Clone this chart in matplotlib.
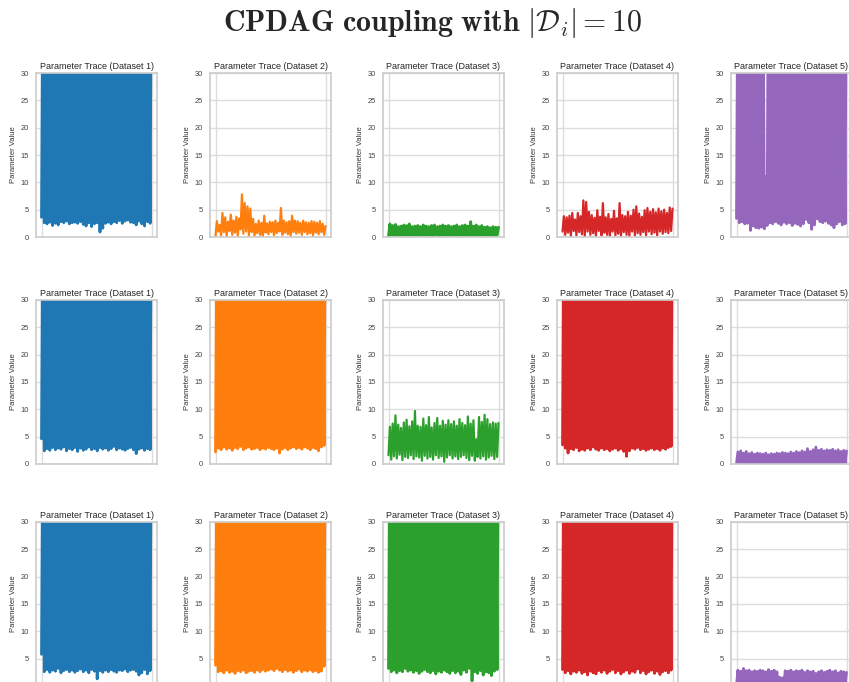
import numpy as np
import matplotlib.pyplot as plt

# iterations shown on the (unlabelled) x axis
n_iter = 1000

# sampled traces, read off the picture as alternating low / high values
# row 1
trace_r1c1 = [3.6, 52, 2.6, 61, 2.4, 45, 2.7, 58, 2.1, 66, 2.5, 49, 2.2, 55, 2.8, 63,
              2.6, 47, 2.9, 59, 2.4, 52, 2.6, 61, 2.7, 45, 2.5, 58, 2.8, 66, 2.3, 49,
              2.0, 55, 2.6, 63, 1.9, 47, 2.4, 59, 2.6, 52, 0.9, 61, 1.6, 45, 2.5, 58,
              2.7, 66, 2.4, 49, 2.8, 55, 2.6, 63, 3.0, 47, 2.5, 59, 2.9, 52, 3.1, 61,
              2.7, 45, 2.6, 58, 2.2, 66, 2.9, 49, 2.4, 55, 2.0, 63, 2.8, 47, 2.5, 59]
trace_r1c2 = [0.2, 2.9, 1.0, 2.2, 0.3, 4.4, 0.9, 3.6, 0.1, 2.8, 1.1, 4.1, 0.4, 3.0, 0.8, 3.7,
              0.2, 3.4, 1.4, 7.8, 0.6, 6.2, 1.0, 5.6, 0.3, 5.2, 0.9, 3.3, 0.2, 2.4, 0.7, 3.0,
              0.4, 2.6, 0.1, 3.9, 0.8, 2.5, 0.5, 2.8, 0.9, 2.7, 0.3, 3.0, 0.7, 2.6, 1.0, 5.3,
              0.4, 3.0, 0.8, 2.7, 0.5, 2.9, 0.2, 3.9, 0.9, 3.0, 0.6, 2.9, 0.8, 2.6, 0.4, 3.0,
              0.9, 2.7, 0.5, 2.6, 0.7, 2.9, 0.3, 2.8, 0.8, 2.6, 0.5, 2.9, 0.9, 2.4, 0.4, 2.0]
trace_r1c3 = [0.2, 2.4, 0.3, 2.1, 0.2, 2.3, 0.3, 1.9, 0.2, 2.0, 0.3, 2.2, 0.2, 2.1, 0.3, 2.4,
              0.2, 1.9, 0.3, 2.0, 0.2, 2.1, 0.3, 1.9, 0.2, 2.2, 0.3, 2.0, 0.2, 1.9, 0.3, 2.1,
              0.2, 2.2, 0.3, 1.9, 0.2, 2.0, 0.3, 2.2, 0.2, 2.0, 0.3, 2.1, 0.2, 1.9, 0.3, 2.0,
              0.2, 2.2, 0.3, 1.9, 0.2, 2.1, 0.3, 2.2, 0.2, 2.0, 0.3, 2.8, 0.2, 2.0, 0.3, 2.2,
              0.2, 1.9, 0.3, 2.1, 0.2, 1.8, 0.3, 1.9, 0.2, 1.7, 0.3, 1.9, 0.2, 1.8, 0.3, 1.8]
trace_r1c4 = [1.0, 3.8, 0.4, 3.6, 0.8, 3.9, 0.2, 4.4, 1.1, 3.2, 0.3, 4.4, 0.9, 3.8, 0.5, 6.7,
              0.2, 6.4, 1.0, 4.6, 0.4, 4.0, 0.7, 3.5, 0.2, 4.9, 1.1, 3.7, 0.3, 6.2, 0.8, 3.6,
              0.4, 4.2, 0.2, 3.3, 1.0, 4.8, 0.3, 3.4, 0.6, 6.2, 0.2, 4.0, 0.9, 3.8, 0.4, 4.6,
              0.2, 3.9, 1.0, 5.0, 0.3, 5.6, 0.7, 4.3, 0.4, 3.7, 0.9, 4.9, 0.3, 5.3, 1.0, 4.6,
              0.5, 5.1, 0.8, 4.5, 0.3, 5.2, 1.0, 4.7, 0.6, 5.0, 0.9, 4.4, 0.7, 5.4, 1.1, 5.2]
trace_r1c5 = [3.4, 52, 2.6, 61, 2.8, 45, 2.4, 58, 2.5, 66, 1.2, 49, 2.0, 55, 1.7, 63,
              1.6, 47, 1.8, 59, 1.5, 11, 2.1, 61, 2.6, 45, 2.4, 58, 2.8, 66, 2.5, 49,
              2.2, 55, 2.7, 63, 2.4, 47, 2.6, 59, 2.1, 52, 2.5, 61, 2.3, 45, 2.0, 58,
              2.4, 66, 3.2, 49, 2.6, 55, 1.4, 63, 2.2, 47, 3.3, 59, 2.8, 52, 2.6, 61,
              2.9, 45, 2.5, 58, 2.2, 66, 1.7, 49, 2.4, 55, 2.8, 63, 2.2, 47, 2.4, 59]
# row 2
trace_r2c1 = [4.6, 52, 2.4, 61, 2.8, 45, 2.5, 58, 3.0, 66, 2.6, 49, 2.9, 55, 2.7, 63,
              3.1, 47, 2.4, 59, 2.8, 52, 2.6, 61, 3.0, 45, 2.3, 58, 2.9, 66, 2.5, 49,
              2.7, 55, 3.1, 63, 2.6, 47, 2.8, 59, 2.4, 52, 3.0, 61, 2.7, 45, 2.9, 58,
              2.5, 66, 2.8, 49, 3.2, 55, 2.6, 63, 2.9, 47, 2.7, 59, 2.5, 52, 2.8, 61,
              3.0, 45, 2.6, 58, 1.9, 66, 2.7, 49, 2.9, 55, 2.5, 63, 2.8, 47, 2.6, 59]
trace_r2c2 = [2.2, 52, 2.9, 61, 2.6, 45, 3.1, 58, 2.7, 66, 2.9, 49, 2.5, 55, 3.0, 63,
              2.8, 47, 3.2, 59, 2.6, 52, 2.9, 61, 3.1, 45, 2.7, 58, 2.8, 66, 3.0, 49,
              2.6, 55, 2.9, 63, 2.7, 47, 3.0, 59, 2.8, 52, 2.6, 61, 2.9, 45, 2.0, 58,
              2.7, 66, 3.0, 49, 2.6, 55, 2.9, 63, 3.1, 47, 2.8, 59, 3.0, 52, 2.7, 61,
              3.1, 45, 2.9, 58, 2.6, 66, 3.0, 49, 2.8, 55, 2.4, 63, 3.1, 47, 3.4, 59]
trace_r2c3 = [1.6, 6.8, 0.8, 7.4, 1.4, 8.9, 1.0, 7.2, 1.7, 6.6, 0.7, 7.6, 1.3, 8.1, 1.1, 6.9,
              1.6, 7.8, 0.9, 9.7, 1.4, 7.0, 1.2, 6.8, 0.6, 8.3, 1.5, 7.1, 1.0, 8.6, 1.3, 6.7,
              0.8, 7.5, 1.6, 8.4, 1.1, 7.0, 1.4, 7.9, 0.4, 7.2, 1.2, 8.0, 1.6, 7.3, 1.0, 7.8,
              1.4, 7.0, 0.9, 8.2, 1.3, 7.5, 1.6, 7.1, 1.1, 8.7, 0.7, 7.4, 1.5, 8.0, 0.6, 4.5,
              1.3, 8.6, 1.0, 7.7, 1.4, 9.0, 0.8, 8.2, 1.2, 7.3, 1.5, 7.6, 0.9, 7.4, 1.3, 7.5]
trace_r2c4 = [3.5, 52, 2.9, 61, 2.0, 45, 2.8, 58, 2.6, 66, 3.0, 49, 2.4, 55, 2.7, 63,
              2.5, 47, 2.9, 59, 2.6, 52, 3.1, 61, 2.7, 45, 2.5, 58, 2.9, 66, 2.6, 49,
              2.8, 55, 2.4, 63, 2.7, 47, 2.9, 59, 2.5, 52, 2.8, 61, 2.3, 45, 1.4, 58,
              2.4, 66, 2.9, 49, 2.7, 55, 3.0, 63, 2.6, 47, 2.8, 59, 2.5, 52, 2.7, 61,
              2.9, 45, 2.6, 58, 2.8, 66, 2.5, 49, 2.9, 55, 2.7, 63, 3.0, 47, 3.2, 59]
trace_r2c5 = [0.1, 2.2, 0.1, 2.4, 0.1, 2.0, 0.1, 2.3, 0.1, 1.9, 0.1, 2.1, 0.1, 1.8, 0.1, 2.0,
              0.1, 1.9, 0.1, 1.8, 0.1, 2.0, 0.1, 1.7, 0.1, 1.9, 0.1, 1.8, 0.1, 2.0, 0.1, 1.9,
              0.1, 2.1, 0.1, 2.0, 0.1, 1.9, 0.1, 2.2, 0.1, 2.0, 0.1, 2.3, 0.1, 2.1, 0.1, 2.4,
              0.1, 2.2, 0.1, 2.8, 0.1, 2.3, 0.1, 2.6, 0.1, 3.1, 0.1, 2.5, 0.1, 2.7, 0.1, 2.4,
              0.1, 2.6, 0.1, 2.5, 0.1, 2.7, 0.1, 2.4, 0.1, 2.6, 0.1, 2.3, 0.1, 2.5, 0.1, 2.4]
# row 3
trace_r3c1 = [5.8, 52, 2.6, 61, 3.0, 45, 2.5, 58, 2.9, 66, 2.7, 49, 3.2, 55, 2.4, 63,
              2.8, 47, 3.0, 59, 2.6, 52, 2.9, 61, 2.5, 45, 2.8, 58, 3.1, 66, 2.6, 49,
              2.9, 55, 2.4, 63, 3.0, 47, 2.7, 59, 1.3, 52, 2.8, 61, 2.5, 45, 2.9, 58,
              2.6, 66, 3.0, 49, 2.7, 55, 2.5, 63, 2.9, 47, 2.8, 59, 3.1, 52, 2.6, 61,
              2.9, 45, 3.0, 58, 2.7, 66, 2.0, 49, 2.4, 55, 3.0, 63, 2.2, 47, 2.8, 59]
trace_r3c2 = [3.8, 52, 2.6, 61, 2.8, 45, 2.4, 58, 2.9, 66, 2.5, 49, 2.7, 55, 2.3, 63,
              2.8, 47, 2.6, 59, 2.9, 52, 2.4, 61, 2.7, 45, 2.8, 58, 2.5, 66, 2.9, 49,
              2.6, 55, 3.0, 63, 2.7, 47, 2.9, 59, 3.1, 52, 2.8, 61, 3.2, 45, 2.9, 58,
              2.6, 66, 3.0, 49, 2.7, 55, 2.9, 63, 2.5, 47, 2.8, 59, 3.1, 52, 2.6, 61,
              2.9, 45, 2.7, 58, 3.0, 66, 2.6, 49, 2.8, 55, 2.5, 63, 2.7, 47, 3.6, 59]
trace_r3c3 = [3.2, 52, 2.6, 61, 2.9, 45, 2.4, 58, 2.8, 66, 2.6, 49, 3.2, 55, 2.7, 63,
              2.9, 47, 2.5, 59, 2.8, 52, 2.3, 61, 2.7, 45, 3.0, 58, 2.6, 66, 2.4, 49,
              2.8, 55, 2.2, 63, 2.7, 47, 2.5, 59, 2.9, 52, 2.6, 61, 2.3, 45, 2.8, 58,
              2.4, 66, 2.7, 49, 2.1, 55, 2.9, 63, 2.5, 47, 3.2, 59, 0.9, 52, 2.6, 61,
              2.3, 45, 2.8, 58, 2.0, 66, 2.6, 49, 2.4, 55, 1.9, 63, 2.7, 47, 3.0, 59]
trace_r3c4 = [3.0, 52, 2.4, 61, 2.8, 45, 2.2, 58, 2.7, 66, 2.5, 49, 2.9, 55, 2.3, 63,
              2.6, 47, 2.0, 59, 2.7, 52, 2.4, 61, 2.2, 45, 2.8, 58, 2.5, 66, 2.9, 49,
              2.3, 55, 2.7, 63, 3.0, 47, 2.4, 59, 2.8, 52, 2.2, 61, 2.6, 45, 2.9, 58,
              2.3, 66, 2.7, 49, 2.5, 55, 3.1, 63, 2.4, 47, 2.8, 59, 2.2, 52, 2.6, 61,
              2.9, 45, 2.3, 58, 2.7, 66, 2.1, 49, 2.6, 55, 2.8, 63, 2.4, 47, 2.9, 59]
trace_r3c5 = [0.1, 2.9, 0.1, 2.7, 0.1, 3.2, 0.1, 2.8, 0.1, 2.9, 0.1, 2.6, 0.1, 2.8, 0.1, 2.7,
              0.1, 2.9, 0.1, 2.8, 0.1, 2.6, 0.1, 3.0, 0.1, 2.7, 0.1, 2.9, 0.1, 2.6, 0.1, 1.6,
              0.1, 1.5, 0.1, 2.8, 0.1, 2.7, 0.1, 2.9, 0.1, 2.6, 0.1, 2.8, 0.1, 2.7, 0.1, 2.9,
              0.1, 2.5, 0.1, 2.8, 0.1, 2.6, 0.1, 2.7, 0.1, 2.3, 0.1, 2.6, 0.1, 2.8, 0.1, 2.5,
              0.1, 2.7, 0.1, 2.9, 0.1, 2.6, 0.1, 2.8, 0.1, 2.4, 0.1, 2.7, 0.1, 2.6, 0.1, 2.5]

traces = [
    [trace_r1c1, trace_r1c2, trace_r1c3, trace_r1c4, trace_r1c5],
    [trace_r2c1, trace_r2c2, trace_r2c3, trace_r2c4, trace_r2c5],
    [trace_r3c1, trace_r3c2, trace_r3c3, trace_r3c4, trace_r3c5],
]
colors = ['tab:blue', 'tab:orange', 'tab:green', 'tab:red', 'tab:purple']
# thinner lines where the trace shows texture rather than a solid band
thin_panels = [(0, 1), (0, 3), (1, 2)]

plt.style.use('seaborn-v0_8-whitegrid')
plt.rcParams['mathtext.fontset'] = 'cm'

W, H = 849, 682
fig = plt.figure(figsize=(W / 100, H / 100), dpi=100)

col_left = [36, 210, 383, 557, 731]
row_top = [73, 300, 522]
ax_w, ax_h = 121, 164

for r in range(3):
    for c in range(5):
        ax = fig.add_axes([col_left[c] / W, 1 - (row_top[r] + ax_h) / H, ax_w / W, ax_h / H])
        y = traces[r][c]
        x = np.linspace(0, n_iter, len(y))
        lw = 1.6 if (r, c) in thin_panels else 2.0
        ax.plot(x, y, color=colors[c], lw=lw)
        ax.set_ylim(0, 30)
        ax.set_yticks(range(0, 31, 5))
        ax.tick_params(axis='x', labelbottom=False)
        ax.tick_params(axis='y', labelsize=5.4, pad=5, colors='#444444')
        ax.set_title(f'Parameter Trace (Dataset {c + 1})', fontsize=6.5, pad=3, color='#262626')
        ax.set_ylabel('Parameter Value', fontsize=5.5, labelpad=3, color='#333333')
        for s in ax.spines.values():
            s.set_color('#cccccc')
            s.set_linewidth(1.2)
        ax.grid(color='#dddddd', lw=1.0)

fig.text(0.509, 0.966, r'$\mathbf{CPDAG\ coupling\ with}\ |\mathcal{D}_i| = 10$',
         fontsize=21.5, ha='center', va='center')

fig.savefig('out.png', dpi=100)
